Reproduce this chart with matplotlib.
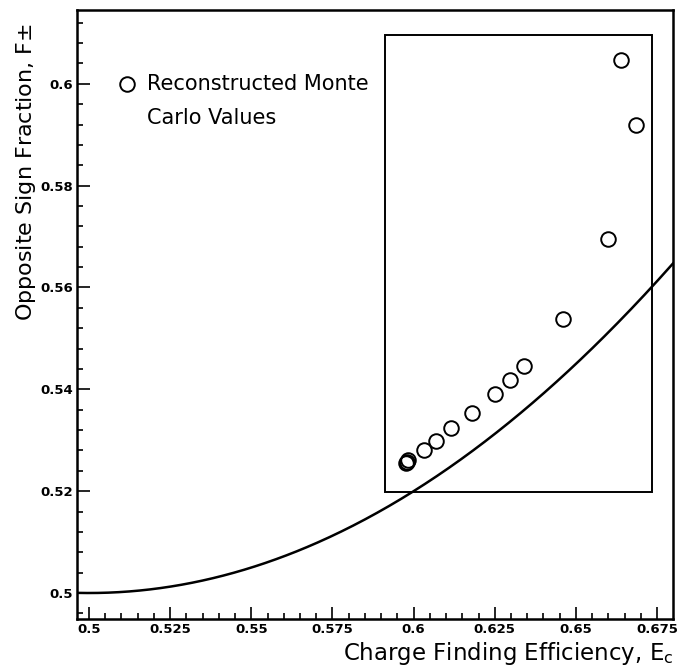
import numpy as np
import matplotlib
matplotlib.use("Agg")
from matplotlib import pyplot as plt
from matplotlib.patches import Rectangle
from matplotlib.ticker import MultipleLocator

# reconstructed Monte Carlo points (charge finding efficiency, opposite sign fraction)
mc_eff = [0.5975, 0.5979, 0.5983, 0.6032, 0.6068, 0.6115, 0.6179, 0.6252,
          0.6297, 0.6341, 0.6459, 0.6600, 0.6639, 0.6685]
mc_frac = [0.5255, 0.5258, 0.5261, 0.5280, 0.5299, 0.5324, 0.5353, 0.5390,
           0.5418, 0.5446, 0.5538, 0.5695, 0.6046, 0.5919]

# highlighted region
box_x = [0.5912, 0.6734]
box_y = [0.5198, 0.6096]

x_lim = [0.4963, 0.6799]
y_lim = [0.4949, 0.6145]


def opposite_sign(e):
    """Expected opposite sign fraction for charge finding efficiency e"""
    return e ** 2 + (1 - e) ** 2


fig = plt.figure(figsize=(6.77, 6.66), dpi=100)
ax = fig.add_axes([0.1137, 0.0706, 0.9941 - 0.1137, 0.985 - 0.0706])

e = np.linspace(x_lim[0], x_lim[1], 400)
ax.plot(e, opposite_sign(e), color="black", lw=1.8)

ax.plot(mc_eff, mc_frac, ls="none", marker="o", ms=10.5, mfc="none", mec="black", mew=1.4)

ax.add_patch(Rectangle((box_x[0], box_y[0]), box_x[1] - box_x[0], box_y[1] - box_y[0],
                       fill=False, ec="black", lw=1.4))

ax.set_xlim(x_lim)
ax.set_ylim(y_lim)
ax.xaxis.set_minor_locator(MultipleLocator(0.005))
ax.yaxis.set_minor_locator(MultipleLocator(0.004))
ax.set_xticks([0.5, 0.525, 0.55, 0.575, 0.6, 0.625, 0.65, 0.675])
ax.set_xticklabels(["0.5", "0.525", "0.55", "0.575", "0.6", "0.625", "0.65", "0.675"])
ax.set_yticks([0.5, 0.52, 0.54, 0.56, 0.58, 0.6])
ax.set_yticklabels(["0.5", "0.52", "0.54", "0.56", "0.58", "0.6"])
ax.tick_params(which="both", direction="in", top=False, right=False, width=1.2)
ax.tick_params(which="major", length=9, labelsize=9.5, pad=3)
ax.tick_params(which="minor", length=4.5)
for lbl in ax.get_xticklabels() + ax.get_yticklabels():
    lbl.set_fontweight("bold")
for sp in ax.spines.values():
    sp.set_linewidth(1.8)

ax.set_ylabel("Opposite Sign Fraction, F$\\pm$", fontsize=16)
ax.yaxis.set_label_coords(-0.066, 0.734)
ax.set_xlabel("Charge Finding Efficiency, E$_\\mathregular{c}$", fontsize=16.5)
ax.xaxis.set_label_coords(1.0, -0.035)
ax.xaxis.label.set_horizontalalignment("right")

# key for the open circles
ax.plot([0.5118], [0.6], ls="none", marker="o", ms=10.5, mfc="none", mec="black", mew=1.4)
ax.text(0.5178, 0.6, "Reconstructed Monte", fontsize=15, va="center", ha="left")
ax.text(0.5178, 0.5933, "Carlo Values", fontsize=15, va="center", ha="left")

fig.savefig("out.png", dpi=100)
plt.close(fig)
